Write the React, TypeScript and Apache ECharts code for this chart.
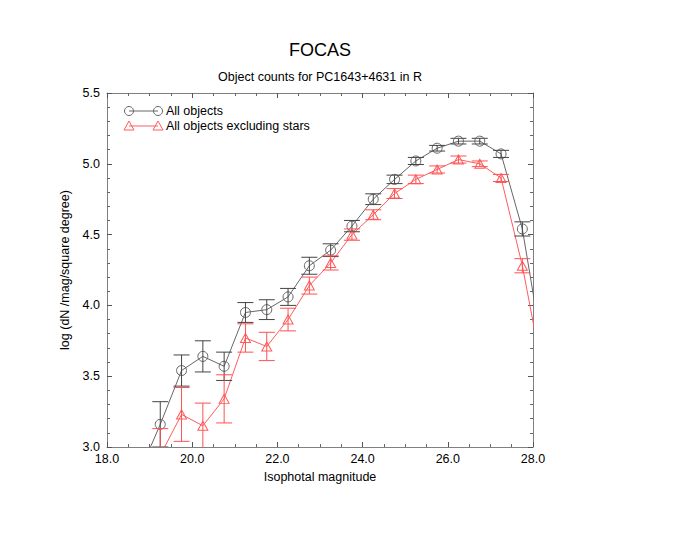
import React, { useEffect, useRef } from "react";
import * as echarts from "echarts";

const magnitudes = [18.75, 19.25, 19.75, 20.25, 20.75, 21.25, 21.75, 22.25, 22.75, 23.25, 23.75, 24.25, 24.75, 25.25, 25.75, 26.25, 26.75, 27.25, 27.75, 28.25];
const allObjects = [2.81, 3.16, 3.54, 3.64, 3.57, 3.95, 3.97, 4.06, 4.28, 4.39, 4.56, 4.75, 4.89, 5.02, 5.11, 5.16, 5.16, 5.07, 4.54, 3.64];
const allObjectsErr = [0.17, 0.16, 0.11, 0.11, 0.1, 0.07, 0.07, 0.06, 0.06, 0.045, 0.04, 0.038, 0.03, 0.025, 0.02, 0.02, 0.02, 0.025, 0.05, 0.1];
const noStars = [null, 2.94, 3.23, 3.15, 3.34, 3.77, 3.71, 3.90, 4.14, 4.30, 4.50, 4.64, 4.79, 4.89, 4.96, 5.03, 5.00, 4.90, 4.28, 3.49];
const noStarsErr = [null, 0.19, 0.19, 0.16, 0.17, 0.1, 0.1, 0.08, 0.06, 0.05, 0.04, 0.035, 0.035, 0.03, 0.025, 0.025, 0.02, 0.025, 0.05, 0.1];
const xTicks = ["18.0", "20.0", "22.0", "24.0", "26.0", "28.0"];
const yTicks = ["3.0", "3.5", "4.0", "4.5", "5.0", "5.5"];

const FONT = "'Liberation Sans', Arial, Helvetica, sans-serif";
const BLACK_LINE = "#666";
const BLACK_BAR = "#444";
const RED_LINE = "#ff5c5c";
const RED_BAR = "#ff5050";

function errorSeries(values: (number | null)[], errs: (number | null)[], color: string) {
  const data: number[][] = [];
  magnitudes.forEach((m, i) => {
    const v = values[i];
    const e = errs[i];
    if (v == null || e == null) return;
    data.push([m, v - e, v + e]);
  });
  return {
    type: "custom",
    clip: true,
    z: 3,
    encode: { x: 0, y: [1, 2] },
    data,
    renderItem: (params: any, api: any) => {
      const x = api.value(0);
      const lo = api.coord([x, api.value(1)]);
      const hi = api.coord([x, api.value(2)]);
      const hw = 8;
      const style = { stroke: color, lineWidth: 1 };
      return {
        type: "group",
        children: [
          { type: "line", shape: { x1: lo[0], y1: lo[1], x2: hi[0], y2: hi[1] }, style },
          { type: "line", shape: { x1: lo[0] - hw, y1: lo[1], x2: lo[0] + hw, y2: lo[1] }, style },
          { type: "line", shape: { x1: hi[0] - hw, y1: hi[1], x2: hi[0] + hw, y2: hi[1] }, style },
        ],
      };
    },
  };
}

function axisCommon(isX: boolean, showLabels: boolean, labels: string[]) {
  return {
    type: "value",
    min: isX ? 18 : 3,
    max: isX ? 28 : 5.5,
    interval: isX ? 2 : 0.5,
    axisLine: { show: true, lineStyle: { color: "#808080", width: 1 } },
    axisTick: { show: true, inside: true, length: 5, lineStyle: { color: "#555" } },
    minorTick: { show: true, splitNumber: isX ? 4 : 5, length: 3, lineStyle: { color: "#666" } },
    splitLine: { show: false },
    axisLabel: {
      show: showLabels,
      color: "#000",
      fontFamily: FONT,
      fontSize: 12.5,
      margin: isX ? 5 : 7,
      showMinLabel: true,
      showMaxLabel: true,
      formatter: (v: number) => {
        const idx = isX ? Math.round((v - 18) / 2) : Math.round((v - 3) / 0.5);
        return labels[idx] ?? v.toFixed(1);
      },
    },
  };
}

export default function App() {
  const ref = useRef<HTMLDivElement>(null);
  useEffect(() => {
    if (!ref.current) return;
    const chart = echarts.init(ref.current, undefined, { renderer: "svg" });
    const legendX1 = 129;
    const legendX2 = 158;
    const row1 = 111;
    const row2 = 126;
    const tri = (cx: number, cy: number) => ({
      type: "polygon",
      shape: { points: [[cx, cy - 5], [cx + 5, cy + 4], [cx - 5, cy + 4]] },
      style: { fill: "none", stroke: RED_LINE, lineWidth: 1 },
    });
    chart.setOption({
      animation: false,
      backgroundColor: "#fff",
      textStyle: { fontFamily: FONT },
      grid: { left: 107, right: 166, top: 93, bottom: 93, containLabel: false },
      xAxis: [
        {
          ...axisCommon(true, true, xTicks),
          position: "bottom",
          name: "Isophotal magnitude",
          nameLocation: "middle",
          nameGap: 23,
          nameTextStyle: { color: "#000", fontFamily: FONT, fontSize: 12.5 },
        },
        { ...axisCommon(true, false, xTicks), position: "top" },
      ],
      yAxis: [
        {
          ...axisCommon(false, true, yTicks),
          position: "left",
          name: "log (dN /mag/square degree)",
          nameLocation: "middle",
          nameGap: 28,
          nameTextStyle: { color: "#000", fontFamily: FONT, fontSize: 12.5 },
        },
        { ...axisCommon(false, false, yTicks), position: "right" },
      ],
      graphic: [
        { type: "text", x: 320, y: 50, style: { text: "FOCAS", font: `18px ${FONT}`, fill: "#000", textAlign: "center", textVerticalAlign: "middle" } },
        { type: "text", x: 320, y: 77, style: { text: "Object counts for PC1643+4631 in R", font: `12.5px ${FONT}`, fill: "#000", textAlign: "center", textVerticalAlign: "middle" } },
        { type: "line", shape: { x1: legendX1, y1: row1, x2: legendX2, y2: row1 }, style: { stroke: BLACK_LINE, lineWidth: 1 } },
        { type: "circle", shape: { cx: legendX1, cy: row1, r: 4.5 }, style: { fill: "none", stroke: BLACK_LINE, lineWidth: 1 } },
        { type: "circle", shape: { cx: legendX2, cy: row1, r: 4.5 }, style: { fill: "none", stroke: BLACK_LINE, lineWidth: 1 } },
        { type: "text", x: 166, y: row1, style: { text: "All objects", font: `12.5px ${FONT}`, fill: "#000", textVerticalAlign: "middle" } },
        { type: "line", shape: { x1: legendX1, y1: row2, x2: legendX2, y2: row2 }, style: { stroke: RED_LINE, lineWidth: 1 } },
        tri(legendX1, row2),
        tri(legendX2, row2),
        { type: "text", x: 166, y: row2, style: { text: "All objects excluding stars", font: `12.5px ${FONT}`, fill: "#000", textVerticalAlign: "middle" } },
      ],
      series: [
        {
          type: "line",
          name: "All objects",
          data: magnitudes.map((m, i) => [m, allObjects[i]]),
          clip: true,
          symbol: "circle",
          symbolSize: 10,
          showAllSymbol: true,
          lineStyle: { color: BLACK_LINE, width: 1 },
          itemStyle: { color: "transparent", borderColor: BLACK_LINE, borderWidth: 1 },
          z: 2,
        },
        {
          type: "line",
          name: "All objects excluding stars",
          data: magnitudes.map((m, i) => [m, noStars[i]]),
          clip: true,
          symbol: "triangle",
          symbolSize: [10, 9],
          showAllSymbol: true,
          lineStyle: { color: RED_LINE, width: 1 },
          itemStyle: { color: "transparent", borderColor: RED_LINE, borderWidth: 1 },
          z: 2,
        },
        errorSeries(allObjects, allObjectsErr, BLACK_BAR),
        errorSeries(noStars, noStarsErr, RED_BAR),
      ],
    });
    return () => chart.dispose();
  }, []);
  return (
    <div
      ref={ref}
      style={{ position: "absolute", left: 0, top: 0, width: 699, height: 540 }}
    />
  );
}
